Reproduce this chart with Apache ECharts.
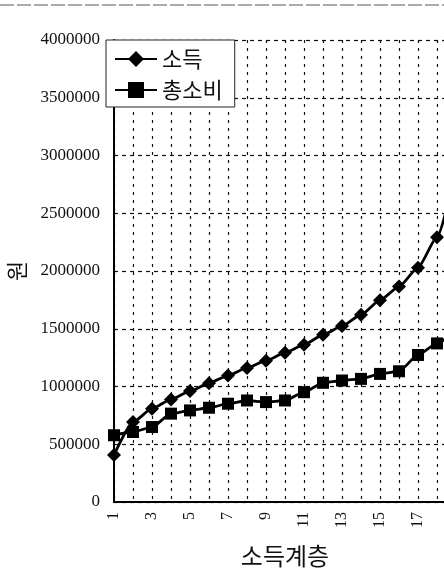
<!DOCTYPE html>
<html><head><meta charset="utf-8">
<script src="https://cdn.jsdelivr.net/npm/echarts@6/dist/echarts.min.js"></script>
<style>html,body{margin:0;padding:0;background:#fff}#c{width:444px;height:585px}</style>
</head><body><div id="c"></div>
<script>
const categories = ['1','2','3','4','5','6','7','8','9','10','11','12','13','14','15','16','17','18','19'];
const income = [407000, 692000, 808000, 888000, 960000, 1029000, 1095000, 1161000, 1224000, 1293000, 1362000, 1448000, 1523000, 1621000, 1747000, 1865000, 2029000, 2293000, 2870000];
const consumption = [578000, 606000, 649000, 765000, 793000, 816000, 851000, 879000, 865000, 879000, 951000, 1032000, 1052000, 1066000, 1109000, 1132000, 1273000, 1373000, 1490000];
const seriesNames = ['소득', '총소비'];
const yTicks = { min: 0, max: 4000000, step: 500000 };

const serif = '"Liberation Serif","DejaVu Serif",serif';
const kr = '"Noto Sans CJK KR","Noto Sans",sans-serif';
const chart = echarts.init(document.getElementById('c'));
chart.setOption({
  animation: false,
  backgroundColor: '#fff',
  graphic: [{
    type: 'line', shape: {x1: 0, y1: 5, x2: 444, y2: 5},
    style: {stroke: '#555', lineWidth: 1, lineDash: [14, 3]}
  }],
  grid: {left: 114, width: 342, top: 40, bottom: 83, containLabel: false, outerBoundsMode: 'none'},
  legend: {
    left: 106, top: 40, orient: 'vertical',
    backgroundColor: '#fff', borderColor: '#222', borderWidth: 1,
    padding: [8, 12, 6, 8], itemGap: 9,
    itemWidth: 42, itemHeight: 20,
    textStyle: {fontFamily: kr, fontSize: 22, color: '#111'},
    data: seriesNames
  },
  xAxis: {
    type: 'category', data: categories, boundaryGap: false,
    name: '소득계층', nameLocation: 'middle', nameGap: 42,
    nameTextStyle: {fontFamily: kr, fontSize: 24, color: '#111'},
    axisLine: {lineStyle: {color: '#000', width: 2}},
    axisTick: {show: false},
    axisLabel: {interval: 1, rotate: 90, margin: 10, fontFamily: serif, fontSize: 16, color: '#111'},
    splitLine: {show: true, interval: 0, lineStyle: {color: '#111', type: [3, 5], width: 1.2}}
  },
  yAxis: {
    type: 'value', min: yTicks.min, max: yTicks.max, interval: yTicks.step,
    name: '원', nameLocation: 'middle', nameGap: 86, nameRotate: 90,
    nameTextStyle: {fontFamily: kr, fontSize: 22, color: '#111'},
    axisLine: {show: true, lineStyle: {color: '#000', width: 2}},
    axisTick: {show: false},
    axisLabel: {margin: 14, fontFamily: serif, fontSize: 17, color: '#111', formatter: v => String(v)},
    splitLine: {show: true, lineStyle: {color: '#111', type: [4, 4], width: 1.2}}
  },
  series: [
    {name: seriesNames[0], type: 'line', data: income, smooth: 0.2, smoothMonotone: 'x',
     showAllSymbol: true, clip: true,
     symbol: 'diamond', symbolSize: 14, lineStyle: {color: '#000', width: 2.8},
     itemStyle: {color: '#000'}},
    {name: seriesNames[1], type: 'line', data: consumption, smooth: 0.2, smoothMonotone: 'x',
     showAllSymbol: true, clip: true,
     symbol: 'rect', symbolSize: 12, lineStyle: {color: '#000', width: 2.8},
     itemStyle: {color: '#000'}}
  ]
});
</script></body></html>
